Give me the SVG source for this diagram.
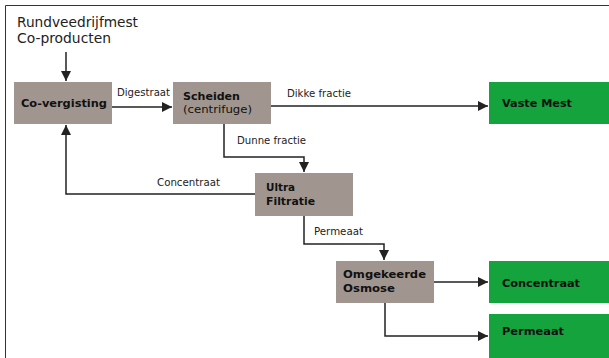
<svg xmlns="http://www.w3.org/2000/svg" width="609" height="358" viewBox="0 0 609 358">
<defs>
<marker id="ah" viewBox="0 0 10 10" refX="10" refY="5" markerWidth="10" markerHeight="10" markerUnits="userSpaceOnUse" orient="auto">
<path d="M0,0 L10,5 L0,10 z" fill="#222"/>
</marker>
<style>
.proc{fill:#a0968f}
.out{fill:#14a33d}
.b{font-family:"DejaVu Sans",Verdana,sans-serif;font-size:11px;font-weight:bold;fill:#111}
.r{font-family:"DejaVu Sans",Verdana,sans-serif;font-size:11px;fill:#111}
.l{font-family:"DejaVu Sans",Verdana,sans-serif;font-size:9.8px;fill:#222}
.t{font-family:"DejaVu Sans",Verdana,sans-serif;font-size:13.8px;fill:#222}
.c{fill:none;stroke:#222;stroke-width:1.5}
</style>
</defs>
<rect x="0" y="0" width="609" height="358" fill="#fff"/>
<path d="M5.5,358 V5.5 H609" fill="none" stroke="#333" stroke-width="1"/>
<text class="t" x="17" y="27" textLength="121" lengthAdjust="spacingAndGlyphs">Rundveedrijfmest</text>
<text class="t" x="17" y="43" textLength="94" lengthAdjust="spacingAndGlyphs">Co-producten</text>
<g id="connectors">
<path class="c" d="M66,52 V81" marker-end="url(#ah)"/>
<path class="c" d="M112,107 H172" marker-end="url(#ah)"/>
<text class="l" x="117" y="96" textLength="53" lengthAdjust="spacingAndGlyphs">Digestraat</text>
<path class="c" d="M271,106 H488" marker-end="url(#ah)"/>
<text class="l" x="287" y="97" textLength="64" lengthAdjust="spacingAndGlyphs">Dikke fractie</text>
<path class="c" d="M224,124 V157 H304 V172" marker-end="url(#ah)"/>
<text class="l" x="237" y="144" textLength="69" lengthAdjust="spacingAndGlyphs">Dunne fractie</text>
<path class="c" d="M255,194 H66 V125" marker-end="url(#ah)"/>
<text class="l" x="157" y="186" textLength="63" lengthAdjust="spacingAndGlyphs">Concentraat</text>
<path class="c" d="M304,216 V244 H384 V260" marker-end="url(#ah)"/>
<text class="l" x="314" y="235" textLength="49" lengthAdjust="spacingAndGlyphs">Permeaat</text>
<path class="c" d="M434,282 H488" marker-end="url(#ah)"/>
<path class="c" d="M385,303 V336 H488" marker-end="url(#ah)"/>
</g>
<g id="covergisting">
<rect class="proc" x="14" y="82" width="98" height="42"/>
<text class="b" x="21" y="107" textLength="86" lengthAdjust="spacingAndGlyphs">Co-vergisting</text>
</g>
<g id="scheiden">
<rect class="proc" x="173" y="82" width="98" height="42"/>
<text class="b" x="183" y="100" textLength="57" lengthAdjust="spacingAndGlyphs">Scheiden</text>
<text class="r" x="183" y="113" textLength="69" lengthAdjust="spacingAndGlyphs">(centrifuge)</text>
</g>
<g id="vastemest">
<rect class="out" x="489" y="82" width="120" height="42"/>
<text class="b" x="502" y="107" textLength="70" lengthAdjust="spacingAndGlyphs">Vaste Mest</text>
</g>
<g id="ultrafiltratie">
<rect class="proc" x="255" y="173" width="98" height="43"/>
<text class="b" x="266" y="191" textLength="29" lengthAdjust="spacingAndGlyphs">Ultra</text>
<text class="b" x="266" y="205" textLength="49" lengthAdjust="spacingAndGlyphs">Filtratie</text>
</g>
<g id="osmose">
<rect class="proc" x="336" y="261" width="98" height="42"/>
<text class="b" x="343" y="278" textLength="83" lengthAdjust="spacingAndGlyphs">Omgekeerde</text>
<text class="b" x="343" y="292" textLength="52" lengthAdjust="spacingAndGlyphs">Osmose</text>
</g>
<g id="concentraat">
<rect class="out" x="489" y="261" width="120" height="42"/>
<text class="b" x="502" y="287" textLength="78" lengthAdjust="spacingAndGlyphs">Concentraat</text>
</g>
<g id="permeaat">
<rect class="out" x="489" y="314" width="120" height="44"/>
<text class="b" x="502" y="335" textLength="62" lengthAdjust="spacingAndGlyphs">Permeaat</text>
</g>
</svg>
